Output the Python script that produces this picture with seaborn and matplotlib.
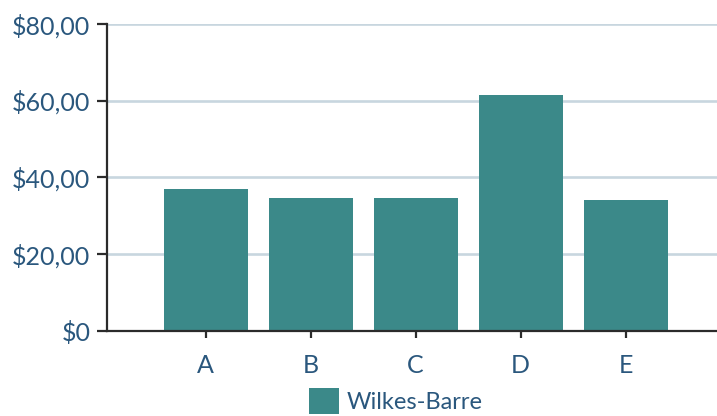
import matplotlib
matplotlib.use("Agg")
import matplotlib.pyplot as plt
import seaborn as sns
import pandas as pd

categories = ["A", "B", "C", "D", "E"]
values = [37.0, 34.6, 34.6, 61.5, 34.1]
series_name = "Wilkes-Barre"
y_ticks = [0, 20, 40, 60, 80]
y_tick_labels = ["$0", "$20,00", "$40,00", "$60,00", "$80,00"]

bar_color = "#3b8989"
text_color = "#2a577d"
grid_color = "#c8d6df"
spine_color = "#2b2b2b"

sns.set_theme(style="white")
plt.rcParams["font.family"] = ["Lato", "DejaVu Sans"]

df = pd.DataFrame({"category": categories, "value": values})

fig = plt.figure(figsize=(7.17, 4.16), dpi=100)
ax = fig.add_axes([107 / 717, 85.5 / 416, 610 / 717, 306.5 / 416])

sns.barplot(data=df, x="category", y="value", color=bar_color, saturation=1,
            width=0.8, label=series_name, ax=ax, zorder=3, linewidth=0,
            edgecolor="none")

ax.set_ylim(0, 80)
ax.set_xlim(-0.94, 4.87)
ax.set_yticks(y_ticks)
ax.set_yticklabels(y_tick_labels)
ax.set_xlabel("")
ax.set_ylabel("")

ax.yaxis.grid(True, color=grid_color, linewidth=1.9, zorder=0)
ax.set_axisbelow(True)

for side in ["top", "right"]:
    ax.spines[side].set_visible(False)
for side in ["left", "bottom"]:
    ax.spines[side].set_color(spine_color)
    ax.spines[side].set_linewidth(1.6)
    ax.spines[side].set_zorder(4)

ax.tick_params(axis="y", which="major", left=True, length=7, width=1.6,
               color=spine_color, pad=5, labelsize=18, labelcolor=text_color)
ax.tick_params(axis="x", which="major", bottom=True, length=5, width=1.6,
               color=spine_color, pad=12, labelsize=18, labelcolor=text_color)

leg = ax.legend(loc="lower center", bbox_to_anchor=(396 / 717, 0.0),
                bbox_transform=fig.transFigure, frameon=False, fontsize=17,
                handlelength=1.25, handleheight=1.3, handletextpad=0.35,
                borderaxespad=0, borderpad=0.1)
for t in leg.get_texts():
    t.set_color(text_color)

fig.savefig("out.png", dpi=100)
